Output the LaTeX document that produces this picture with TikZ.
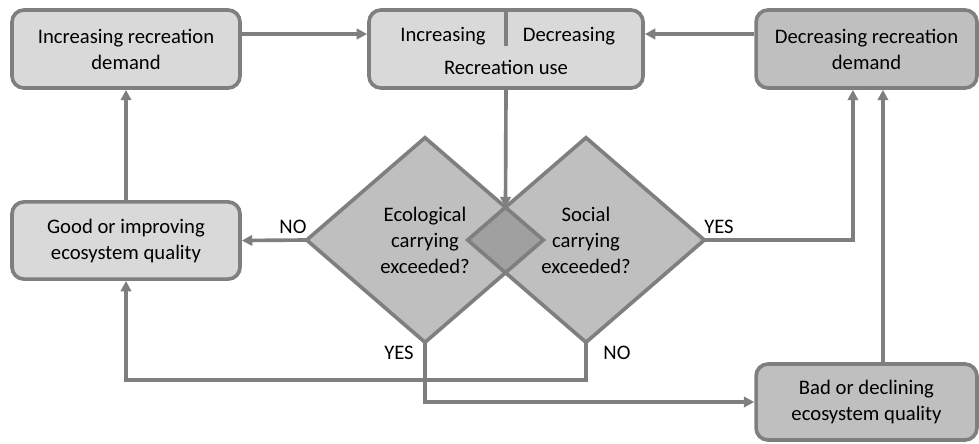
\documentclass[tikz,border=0pt]{standalone}
\usepackage{fontspec}
\setmainfont{Carlito}
\usepackage{tikz}
\usetikzlibrary{shapes.geometric,arrows.meta,positioning}
\definecolor{lightFill}{RGB}{217, 217, 217}
\definecolor{darkFill}{RGB}{191, 191, 191}
\definecolor{overlapFill}{RGB}{160, 160, 160}
\definecolor{lineColor}{RGB}{127, 127, 127}

\tikzset{
    box/.style={rectangle, rounded corners=0.3cm, draw=lineColor, line width=2.6pt,
        fill=lightFill, align=center, inner sep=0pt},
    darkbox/.style={box, fill=darkFill},
    question/.style={diamond, fill=darkFill, minimum width=5.9cm, minimum height=5.1cm,
        inner sep=0pt, align=center},
    edge/.style={draw=lineColor, line width=2.6pt, line join=miter},
    flow/.style={edge, -{Triangle[length=0.26cm,width=0.26cm]}},
    answer/.style={inner sep=0pt}
}

\begin{document}
\begin{tikzpicture}[x=0.025cm, y=-0.025cm, font=\fontsize{14.7}{18.5}\selectfont]
            \useasboundingbox (0,0) rectangle (979,443);

            % Top row
            \node[box, minimum width=5.7cm, minimum height=1.95cm] (incDemand) at (126,49)
                {Increasing recreation\\demand};
            \node[box, minimum width=6.85cm, minimum height=1.95cm] (recUse) at (506,49) {};
            \node[darkbox, minimum width=5.52cm, minimum height=1.95cm] (decDemand) at (866.5,49)
                {Decreasing recreation\\demand};

            % Recreation use split
            \draw[edge] (recUse.north) -- ++(0,38);
            \node (incUse) at (443,36) {Increasing};
            \node (decUse) at (569,36) {Decreasing};
            \node (useLabel) at (506,67) {Recreation use};

            % Carrying capacity questions
            \node[question] (ecoQ) at (425,240) {Ecological\\carrying\\exceeded?};
            \node[question] (socQ) at (586,240) {Social\\carrying\\exceeded?};
            \node[question, minimum width=1.875cm, minimum height=1.62cm, fill=overlapFill] (overlap) at (505.5,240) {};
            \draw[edge] (ecoQ.north) -- (ecoQ.east) -- (ecoQ.south) -- (ecoQ.west) -- cycle;
            \draw[edge] (socQ.north) -- (socQ.east) -- (socQ.south) -- (socQ.west) -- cycle;

            % Ecosystem quality
            \node[box, minimum width=5.7cm, minimum height=1.93cm] (goodEco) at (126,240.5)
                {Good or improving\\ecosystem quality};
            \node[darkbox, minimum width=5.52cm, minimum height=1.9cm] (badEco) at (866.5,402)
                {Bad or declining\\ecosystem quality};

            % Connectors
            \draw[flow] ([yshift=0.375cm]incDemand.east) -- ([yshift=0.375cm]recUse.west);
            \draw[flow] ([yshift=0.375cm]decDemand.west) -- ([yshift=0.375cm]recUse.east);
            \draw[flow] (recUse.south) -- (overlap.north);
            \draw[flow] (ecoQ.west) -- (goodEco.east);
            \draw[flow] (goodEco.north) -- (incDemand.south);
            \draw[flow] (socQ.east) -| ([xshift=-0.34cm]decDemand.south);
            \draw[flow] ([xshift=0.41cm]badEco.north) -- ([xshift=0.41cm]decDemand.south);
            \draw[flow] (ecoQ.south) |- (badEco.west);
            \draw[flow] (socQ.south) -- ++(0,38) -| (goodEco.south);

            % Answers
            \node[answer] (ecoNo) at (293,227) {NO};
            \node[answer] (socYes) at (719,227) {YES};
            \node[answer] (ecoYes) at (399,353) {YES};
            \node[answer] (socNo) at (617,353) {NO};
        \end{tikzpicture}
\end{document}
